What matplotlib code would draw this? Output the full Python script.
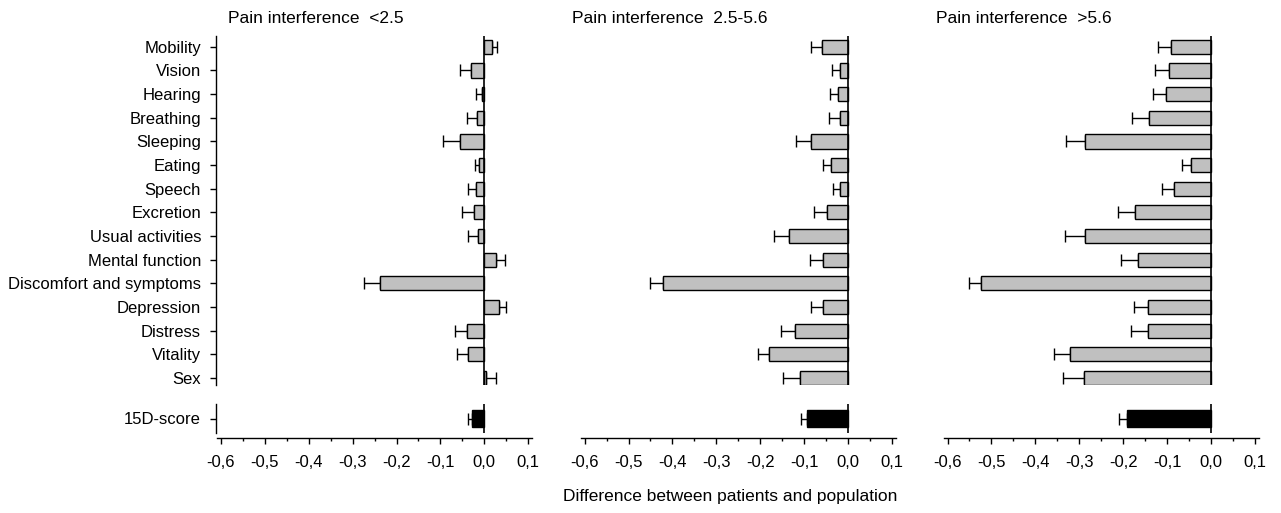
import numpy as np
import matplotlib
matplotlib.use("Agg")
import matplotlib.pyplot as plt
from matplotlib.ticker import MultipleLocator, FuncFormatter

plt.rcParams['font.family'] = ['Liberation Sans', 'DejaVu Sans']
plt.rcParams['font.size'] = 12

categories = ["Mobility", "Vision", "Hearing", "Breathing", "Sleeping", "Eating",
              "Speech", "Excretion", "Usual activities", "Mental function",
              "Discomfort and symptoms", "Depression", "Distress", "Vitality", "Sex"]
score_label = "15D-score"
titles = ["Pain interference  <2.5", "Pain interference  2.5-5.6", "Pain interference  >5.6"]

# mean differences per dimension (patients - population)
low_mean = [0.018, -0.030, -0.005, -0.016, -0.055, -0.011, -0.020, -0.024,
            -0.015, 0.026, -0.238, 0.034, -0.040, -0.037, 0.004]
low_se = [0.012, 0.026, 0.014, 0.023, 0.038, 0.011, 0.016, 0.027,
          0.022, 0.022, 0.037, 0.016, 0.026, 0.025, 0.023]
mid_mean = [-0.059, -0.018, -0.023, -0.018, -0.085, -0.038, -0.018, -0.047,
            -0.134, -0.056, -0.421, -0.057, -0.120, -0.179, -0.110]
mid_se = [0.026, 0.018, 0.018, 0.025, 0.033, 0.019, 0.016, 0.030,
          0.034, 0.030, 0.029, 0.027, 0.033, 0.027, 0.038]
high_mean = [-0.090, -0.095, -0.103, -0.142, -0.287, -0.046, -0.083, -0.172,
             -0.287, -0.167, -0.523, -0.143, -0.144, -0.320, -0.290]
high_se = [0.031, 0.032, 0.028, 0.038, 0.043, 0.019, 0.028, 0.040,
           0.046, 0.038, 0.027, 0.032, 0.038, 0.038, 0.048]

# total 15D score
score_mean = [-0.027, -0.093, -0.191]
score_se = [0.010, 0.013, 0.018]

means = [low_mean, mid_mean, high_mean]
ses = [low_se, mid_se, high_se]

W, H = 1281, 513
fig = plt.figure(figsize=(W / 100, H / 100), dpi=100)

zero_px = [484.3, 848.0, 1210.9]
scale = 439.0  # px per unit
xmin, xmax = -0.611, 0.105
title_px = [228, 572, 936]


def comma_fmt(x, pos):
    if abs(x) < 1e-9:
        x = 0.0
    return f"{x:.1f}".replace('.', ',')


def one_sided(m, s):
    m = np.asarray(m)
    s = np.asarray(s)
    lo = np.where(m < 0, s, 0)
    hi = np.where(m >= 0, s, 0)
    return [lo, hi]


for i in range(3):
    left = (zero_px[i] + xmin * scale) / W
    width = (xmax - xmin) * scale / W

    ax = fig.add_axes([left, 1 - 385 / H, width, (385 - 35.7) / H])
    axb = fig.add_axes([left, 1 - 433 / H, width, 29 / H])

    y = np.arange(len(categories))
    ax.errorbar(means[i], y, xerr=one_sided(means[i], ses[i]), fmt='none',
                ecolor='black', elinewidth=1.0, capsize=4.5, capthick=1.0, zorder=1)
    ax.barh(y, means[i], height=0.6, color='#c0c0c0', edgecolor='black',
            linewidth=1.0, zorder=2)
    ax.axvline(0, color='black', lw=1.2, zorder=3)
    ax.set_xlim(xmin, xmax)
    ax.set_ylim(len(categories) - 1 + 0.3, -0.47)

    axb.errorbar([score_mean[i]], [0], xerr=one_sided([score_mean[i]], [score_se[i]]),
                 fmt='none', ecolor='black', elinewidth=1.0, capsize=4.5, capthick=1.0, zorder=1)
    axb.barh([0], [score_mean[i]], height=0.6, color='black', edgecolor='black',
             linewidth=1.0, zorder=2)
    axb.axvline(0, color='black', lw=1.2, zorder=3)
    axb.set_xlim(xmin, xmax)
    axb.set_ylim(-0.5, 0.5)

    for a in (ax, axb):
        a.patch.set_visible(False)
        a.spines['top'].set_visible(False)
        a.spines['right'].set_visible(False)
        a.spines['left'].set_linewidth(1.0)
        a.spines['left'].set_visible(i == 0)

    ax.spines['bottom'].set_visible(False)
    ax.tick_params(axis='x', which='both', bottom=False, labelbottom=False)

    if i == 0:
        ax.set_yticks(y)
        ax.set_yticklabels(categories)
        axb.set_yticks([0])
        axb.set_yticklabels([score_label])
        for a in (ax, axb):
            a.tick_params(axis='y', direction='out', length=4.3, width=1.0, pad=6.5)
    else:
        ax.set_yticks([])
        axb.set_yticks([])

    axb.spines['bottom'].set_position(('outward', 3.6))
    axb.spines['bottom'].set_bounds(-0.609, 0.109)
    axb.spines['bottom'].set_linewidth(1.0)
    axb.xaxis.set_minor_locator(MultipleLocator(0.05))
    axb.xaxis.set_major_formatter(FuncFormatter(comma_fmt))
    axb.set_xticks(np.round(np.arange(-0.6, 0.11, 0.1), 2))
    axb.tick_params(axis='x', which='major', direction='out', length=4, width=1.0, pad=8)
    axb.tick_params(axis='x', which='minor', direction='out', length=2, width=1.0)

    fig.text(title_px[i] / W, 1 - 18.5 / H, titles[i], ha='left', va='center', fontsize=12.5)

fig.text(563 / W, 1 - 496.5 / H, "Difference between patients and population",
         ha='left', va='center', fontsize=12.5)

fig.savefig("out.png", dpi=100)
